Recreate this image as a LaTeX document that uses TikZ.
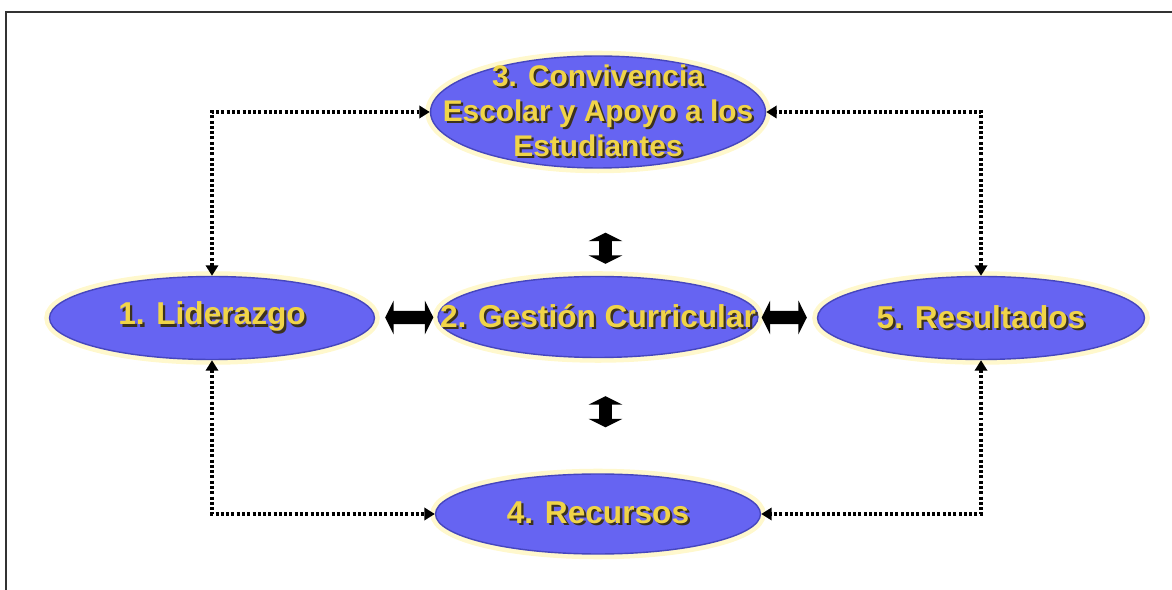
\documentclass[tikz,border=0pt]{standalone}
\usepackage{fontspec}
\setmainfont{Liberation Sans}
\usetikzlibrary{shapes.geometric,arrows.meta}

\definecolor{blobfill}{RGB}{102,100,242}
\definecolor{blobedge}{RGB}{70,70,190}
\definecolor{glow}{RGB}{255,248,205}
\definecolor{gold}{RGB}{240,212,72}
\definecolor{shade}{RGB}{60,50,30}
\newcommand{\shtxt}[1]{\makebox[0pt][l]{\hspace{1.3pt}\raisebox{-1.3pt}{\color{shade}#1}}{\color{gold}#1}}

\begin{document}
\begin{tikzpicture}[x=0.02cm, y=-0.02cm,
    blob/.style={ellipse, draw=blobedge, line width=0.8pt, fill=blobfill,
        preaction={draw=glow, line width=6pt}},
    lbl/.style={font=\bfseries\fontsize{18}{21}\selectfont, align=center, inner sep=0pt},
    dotline/.style={<->, >={Triangle[width=7pt,length=6pt]}, line width=1.9pt,
        dash pattern=on 1.7pt off 1.3pt},
    bigarrow/.style={<->, >={Triangle[width=19pt,length=4.8pt]}, line width=7.5pt}]
            \useasboundingbox (0, 0) rectangle (1172, 590);
            \draw[line width=1.2pt, black!80] (6, 590) -- (6, 12) -- (1172, 12);

            \node[blob, minimum width=6.7cm, minimum height=2.24cm] (conv) at (598, 112) {};
            \node[blob, minimum width=6.5cm, minimum height=1.66cm] (lid) at (212, 318) {};
            \node[blob, minimum width=6.4cm, minimum height=1.62cm] (ges) at (598, 317) {};
            \node[blob, minimum width=6.54cm, minimum height=1.66cm] (res) at (981, 318) {};
            \node[blob, minimum width=6.5cm, minimum height=1.6cm] (rec) at (598, 514) {};

            \node[lbl, font=\bfseries\fontsize{17}{20}\selectfont] at (conv)
                {\shtxt{3. Convivencia}\\ \shtxt{Escolar y Apoyo a los}\\ \shtxt{Estudiantes}};
            \node[lbl] at (lid) {\shtxt{1. Liderazgo}};
            \node[lbl] at (ges) {\shtxt{2. Gestión Curricular}};
            \node[lbl] at (res) {\shtxt{5. Resultados}};
            \node[lbl] at (rec) {\shtxt{4. Recursos}};

            % dotted links round the outside
            \draw[dotline] (lid.north) |- (conv.west);
            \draw[dotline] (res.north) |- (conv.east);
            \draw[dotline] (lid.south) |- (rec.west);
            \draw[dotline] (res.south) |- (rec.east);

            % heavy arrows round the centre
            \draw[bigarrow, shorten <=1.28cm, shorten >=0.24cm] ([xshift=0.15cm]conv.south) -- ([xshift=0.15cm]ges.north);
            \draw[bigarrow, shorten <=0.76cm, shorten >=0.92cm] ([xshift=0.15cm]ges.south) -- ([xshift=0.15cm]rec.north);
            \draw[bigarrow, shorten <=0.2cm, shorten >=0.08cm] (lid) -- (ges);
            \draw[bigarrow, shorten <=0.06cm, shorten >=0.2cm] (ges) -- (res);
        \end{tikzpicture}
\end{document}
